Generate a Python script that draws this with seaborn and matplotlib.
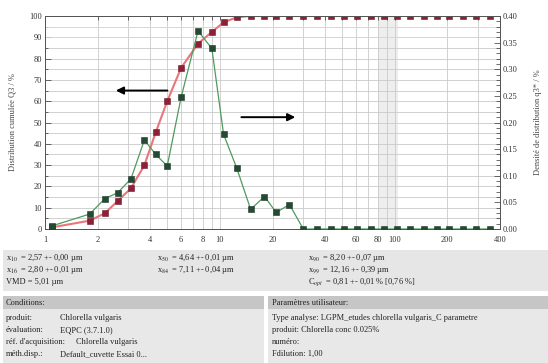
import numpy as np
import pandas as pd
import matplotlib
matplotlib.use('Agg')
import matplotlib.pyplot as plt
import seaborn as sns
from matplotlib.patches import Rectangle
from matplotlib.ticker import FixedLocator, FuncFormatter, MultipleLocator

# particle size classes (µm) and measured distributions
size_um = [1.1, 1.8, 2.2, 2.6, 3.1, 3.7, 4.3, 5.0, 6.0, 7.5, 9.0, 10.5, 12.5,
           15, 18, 21, 25, 30, 36, 43, 51, 61, 73, 87, 103, 123, 147, 175,
           205, 245, 290, 350]
Q3_cum = [0.8, 3.9, 7.4, 13.1, 19.1, 29.9, 45.4, 60.0, 75.6, 87.0, 92.5, 97.0,
          99.4, 100, 100, 100, 100, 100, 100, 100, 100, 100, 100, 100, 100,
          100, 100, 100, 100, 100, 100, 100]
q3_dens = [0.006, 0.028, 0.057, 0.068, 0.094, 0.167, 0.140, 0.118, 0.247,
           0.372, 0.339, 0.178, 0.114, 0.037, 0.061, 0.031, 0.046, 0, 0, 0, 0,
           0, 0, 0, 0, 0, 0, 0, 0, 0, 0, 0]

x_labels = [1, 2, 4, 6, 8, 10, 20, 40, 60, 80, 100, 200, 400]
x_grid = [m * d for d in (1, 10, 100) for m in range(1, 10)]
x_grid = [v for v in x_grid if v <= 400]

stats = [
    ["x$_{10}$  = 2,57 +- 0,00 µm", "x$_{50}$  = 4,64 +- 0,01 µm", "x$_{90}$  = 8,20 +- 0,07 µm"],
    ["x$_{16}$  = 2,80 +- 0,01 µm", "x$_{84}$  = 7,11 +- 0,04 µm", "x$_{99}$  = 12,16 +- 0,39 µm"],
    ["VMD = 5,01 µm", "", "C$_{opt}$  = 0,81 +- 0,01 % [0,76 %]"],
]
cond_keys = ["produit:", "évaluation:", "réf. d'acquisition:", "méth.disp.:"]
cond_vals = ["Chlorella vulgaris", "EQPC (3.7.1.0)", "Chlorella vulgaris", "Default_cuvette Essai 0..."]
param_lines = ["Type analyse: LGPM_etudes chlorella vulgaris_C parametre",
               "produit: Chlorella conc 0.025%", "numéro:", "Fdilution: 1,00"]

df = pd.DataFrame({'size': size_um, 'Q3': Q3_cum, 'q3': q3_dens})

sns.set_style('white')
plt.rcParams['font.family'] = ['Liberation Serif', 'DejaVu Serif']
plt.rcParams['mathtext.fontset'] = 'stix'

W, H = 548, 363
fig = plt.figure(figsize=(W / 100, H / 100), dpi=100)
fig.patch.set_facecolor('white')

ax = fig.add_axes([45 / W, 1 - 229 / H, 455 / W, 213 / H])
ax.set_xscale('log')
ax.set_xlim(1, 400)
ax.set_ylim(0, 100)

# grid
ax.axvspan(80, 105, color='#eeeeee', zorder=0, lw=0)
ax.xaxis.set_major_locator(FixedLocator(x_grid))
ax.xaxis.set_minor_locator(FixedLocator([]))
ax.xaxis.set_major_formatter(FuncFormatter(lambda v, p: str(int(round(v))) if int(round(v)) in x_labels else ''))
ax.yaxis.set_major_locator(MultipleLocator(10))
ax.yaxis.set_minor_locator(MultipleLocator(5))
ax.grid(which='major', color='#cacaca', lw=0.6)
ax.grid(which='minor', axis='y', color='#cacaca', lw=0.6)
for v in (90, 95):
    ax.axhline(v, color='#f4cdd0', lw=0.6, zorder=1)

ax.tick_params(axis='x', which='major', direction='in', length=3, width=0.5,
               labelsize=6, colors='#333333', top=True, pad=5)
ax.tick_params(axis='y', which='both', direction='in', width=0.5, labelsize=6,
               colors='#333333', pad=2)
ax.tick_params(axis='y', which='major', length=4)
ax.tick_params(axis='y', which='minor', length=2)
for s in ax.spines.values():
    s.set_color('#555555')
    s.set_linewidth(0.7)

sns.lineplot(data=df, x='size', y='Q3', ax=ax, color='#e8767b', lw=1.5,
             marker='s', markersize=4, markerfacecolor='#8e1f36',
             markeredgecolor='#6a1a2a', markeredgewidth=0.4, zorder=4)
ax.set_xlabel('')
ax.set_ylabel('Distribution cumulée Q3 / %', fontsize=6, color='#444444', labelpad=9)

ax2 = ax.twinx()
ax2.set_ylim(0, 0.40)
sns.lineplot(data=df, x='size', y='q3', ax=ax2, color='#4f9a5c', lw=0.9,
             marker='s', markersize=4, markerfacecolor='#244a34',
             markeredgecolor='#1b3526', markeredgewidth=0.4, zorder=5)
ax2.set_xlim(1, 400)
ax2.set_ylabel('Densité de distribution q3* / %', fontsize=6, color='#444444', labelpad=12)
ax2.yaxis.set_major_locator(MultipleLocator(0.05))
ax2.yaxis.set_minor_locator(MultipleLocator(0.01))
ax2.yaxis.set_major_formatter(FuncFormatter(lambda v, p: f'{v:.2f}'))
ax2.tick_params(axis='y', which='both', direction='in', width=0.5, labelsize=6,
                colors='#333333', pad=2)
ax2.tick_params(axis='y', which='major', length=4)
ax2.tick_params(axis='y', which='minor', length=3)
ax2.grid(False)
for s in ax2.spines.values():
    s.set_color('#555555')
    s.set_linewidth(0.7)

# arrows pointing to each axis
ax.annotate('', xy=(2.45, 65), xytext=(5.2, 65),
            arrowprops=dict(arrowstyle='-|>', color='black', lw=1.4, mutation_scale=11), zorder=6)
ax.annotate('', xy=(28, 52.5), xytext=(12.8, 52.5),
            arrowprops=dict(arrowstyle='-|>', color='black', lw=1.4, mutation_scale=11), zorder=6)


def box(x0, y0, x1, y1, color):
    fig.patches.append(Rectangle((x0 / W, 1 - y1 / H), (x1 - x0) / W, (y1 - y0) / H,
                                 transform=fig.transFigure, facecolor=color,
                                 edgecolor='none', zorder=0))


def txt(x, y, s, **kw):
    fig.text(x / W, 1 - y / H, s, fontsize=6, va='center', ha='left', color='#222222', **kw)


# result panel
box(3, 250, 548, 291, '#e6e6e6')
for r, row in enumerate(stats):
    for c, s in enumerate(row):
        if s:
            txt([6, 157, 308][c], 258 + 12 * r, s)

# conditions / user parameters panels
box(3, 296, 264, 363, '#e8e8e8')
box(3, 296, 264, 309, '#c6c6c6')
box(268, 296, 548, 363, '#e8e8e8')
box(268, 296, 548, 309, '#c6c6c6')
txt(6, 303, 'Conditions:')
txt(272, 303, 'Paramètres utilisateur:')
for i, (k, v) in enumerate(zip(cond_keys, cond_vals)):
    txt(6, 318 + 12 * i, k)
    txt(60 if i != 2 else 76, 318 + 12 * i, v)
for i, s in enumerate(param_lines):
    txt(272, 318 + 12 * i, s)

plt.savefig('out.png', dpi=100)
